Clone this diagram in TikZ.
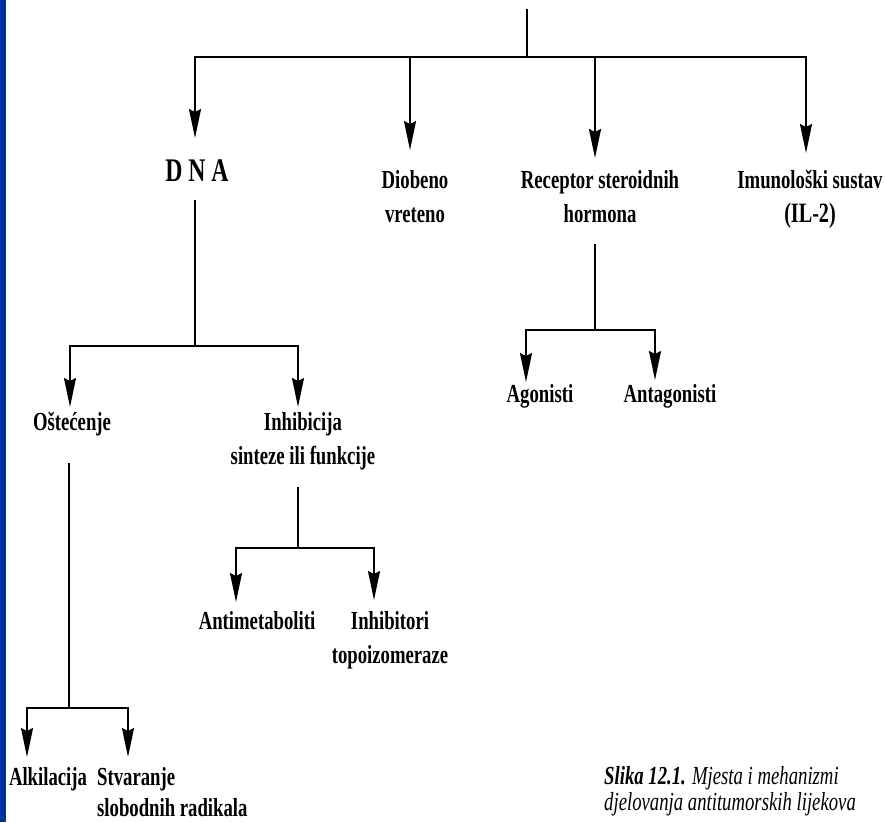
\documentclass[tikz,border=0pt]{standalone}
\usepackage{fontspec}
\setmainfont{Liberation Serif}[FakeStretch=0.72]
\usetikzlibrary{arrows.meta}
\definecolor{sideblue}{RGB}{0,51,153}
\begin{document}
\begin{tikzpicture}[x=1pt,y=-1pt,
  lbl/.style={inner sep=0pt, anchor=north, align=center, font=\fontsize{26}{34}\selectfont\bfseries},
  ln/.style={line width=2pt, line cap=rect},
  arr/.style={line width=2pt, -{Stealth[length=29pt,width=12pt,inset=3pt]}},
  ]
\useasboundingbox (0,0) rectangle (885,822);
\fill[white] (0,0) rectangle (885,822);
\fill[sideblue] (0,0) rectangle (6,822);

% nodes
\node[inner sep=0pt, anchor=north, font=\fontsize{33}{34}\selectfont\bfseries] (dna) at (197,160) {D N A};
\node[lbl] (dio) at (415,170) {Diobeno\\vreteno};
\node[lbl] (rec) at (600,170) {Receptor steroidnih\\hormona};
\node[lbl] (imu) at (810,170) {Imunološki sustav\\{\fontsize{28}{34}\selectfont (IL-2)}};
\node[lbl] (ago) at (540,384) {Agonisti};
\node[lbl] (ant) at (670,384) {Antagonisti};
\node[lbl] (ost) at (72,412) {Oštećenje};
\node[lbl] (inh) at (303,412) {Inhibicija\\sinteze ili funkcije};
\node[lbl] (ame) at (257,611) {Antimetaboliti};
\node[lbl] (ito) at (390,611) {Inhibitori\\topoizomeraze};
\node[lbl] (alk) at (48,767) {Alkilacija};
\node[lbl, anchor=north west, align=left, font=\fontsize{26}{31}\selectfont\bfseries] (stv) at (97,767) {Stvaranje\\slobodnih radikala};
\node[inner sep=0pt, anchor=north west, align=left, font=\fontsize{26}{26}\selectfont\itshape] (cap) at (604,766) {\textbf{Slika 12.1.} Mjesta i mehanizmi\\djelovanja antitumorskih lijekova};

% top level
\coordinate (top) at (527,10);
\coordinate (tj) at (527,57);
\coordinate (t0) at (195,57);
\coordinate (t1) at (410,57);
\coordinate (t2) at (595,57);
\coordinate (t3) at (806,57);
\draw[ln] (top) -- (tj);
\draw[ln] (t0) -- (t3);
\draw[arr, shorten >=22pt] (t0) -- (t0 |- dna.north);
\draw[arr, shorten >=20pt] (t1) -- (t1 |- dio.north);
\draw[arr, shorten >=12pt] (t2) -- (t2 |- rec.north);
\draw[arr, shorten >=17pt] (t3) -- (t3 |- imu.north);

% receptor branch
\coordinate (rj) at (595,330);
\coordinate (ra) at (526,330);
\coordinate (rb) at (655,330);
\draw[ln, shorten <=22pt] (rec.south -| rj) -- (rj);
\draw[ln] (ra) -- (rb);
\draw[arr, shorten >=2pt] (ra) -- (ra |- ago.north);
\draw[arr, shorten >=4pt] (rb) -- (rb |- ant.north);

% DNA branch
\coordinate (dj) at (195,346);
\coordinate (da) at (70,346);
\coordinate (db) at (298,346);
\draw[ln, shorten <=19pt] (dna.south -| dj) -- (dj);
\draw[ln] (da) -- (db);
\draw[arr, shorten >=5pt] (da) -- (da |- ost.north);
\draw[arr, shorten >=5pt] (db) -- (db |- inh.north);

% Ostecenje branch
\coordinate (oj) at (69,708);
\coordinate (oa) at (27,708);
\coordinate (ob) at (128,708);
\draw[ln, shorten <=28pt] (ost.south -| oj) -- (oj);
\draw[ln] (oa) -- (ob);
\draw[arr, shorten >=10pt] (oa) -- (oa |- alk.north);
\draw[arr, shorten >=10pt] (ob) -- (ob |- stv.north);

% Inhibicija branch
\coordinate (ij) at (298,548);
\coordinate (ia) at (236,548);
\coordinate (ib) at (374,548);
\draw[ln, shorten <=18pt] (inh.south -| ij) -- (ij);
\draw[ln] (ia) -- (ib);
\draw[arr, shorten >=9pt] (ia) -- (ia |- ame.north);
\draw[arr, shorten >=11pt] (ib) -- (ib |- ito.north);
\end{tikzpicture}
\end{document}
